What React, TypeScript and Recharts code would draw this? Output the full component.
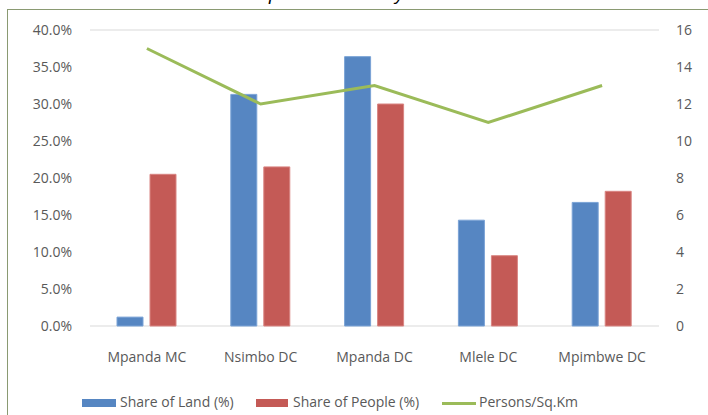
import React from 'react';
import { ComposedChart, Bar, Line, XAxis, YAxis, CartesianGrid, Legend } from 'recharts';

const districts = ['Mpanda MC', 'Nsimbo DC', 'Mpanda DC', 'Mlele DC', 'Mpimbwe DC'];
const landShare = [1.2, 31.3, 36.4, 14.3, 16.7];
const peopleShare = [20.5, 21.5, 30.0, 9.5, 18.2];
const personsPerSqKm = [15, 12, 13, 11, 13];

const leftTicks = [0, 5, 10, 15, 20, 25, 30, 35, 40];
const rightTicks = [0, 2, 4, 6, 8, 10, 12, 14, 16];

const BLUE = '#5686c2';
const RED = '#c45a56';
const GREEN = '#9bbb59';
const TEXT = '#595959';
const FONT = '"Open Sans", "Liberation Sans", sans-serif';

const chartData = districts.map((name, i) => ({
  name,
  land: landShare[i],
  people: peopleShare[i],
  density: personsPerSqKm[i],
}));

// legend drawn by hand so the spacing matches the Excel one
const LegendRow = () => (
  <div style={{ position: 'relative', height: 16, fontFamily: FONT, fontSize: 14, color: TEXT, whiteSpace: 'nowrap' }}>
    <div style={{ position: 'absolute', left: 82, top: 4, width: 34, height: 8, background: BLUE }} />
    <span style={{ position: 'absolute', left: 120, top: -3 }}>Share of Land (%)</span>
    <div style={{ position: 'absolute', left: 256, top: 4, width: 32, height: 8, background: RED }} />
    <span style={{ position: 'absolute', left: 293, top: -3 }}>Share of People (%)</span>
    <div style={{ position: 'absolute', left: 442, top: 7, width: 34, height: 3, background: GREEN }} />
    <span style={{ position: 'absolute', left: 479, top: -3 }}>Persons/Sq.Km</span>
  </div>
);

export default function App() {
  return (
    <div style={{ position: 'absolute', left: 0, top: 0, width: 708, height: 415, overflow: 'hidden', background: '#fff' }}>
      {/* chart frame, only top and left edges fall inside the picture */}
      <div style={{ position: 'absolute', left: 7, top: 9, width: 701, height: 406, borderLeft: '1.5px solid #8a9a72', borderTop: '1.5px solid #8a9a72' }} />
      {/* title, mostly cut off above the frame */}
      <div
        style={{
          position: 'absolute',
          left: 0,
          width: 650,
          top: -17,
          textAlign: 'center',
          fontFamily: '"Liberation Sans", sans-serif',
          fontStyle: 'italic',
          fontSize: 19,
          color: '#000',
          lineHeight: '22px',
        }}
      >
        Population Density
      </div>
      <ComposedChart
        width={708}
        height={415}
        data={chartData}
        margin={{ top: 30, right: 0, left: 20, bottom: 14 }}
        barGap={7}
        barSize={26}
        style={{ position: 'absolute', left: 0, top: 0 }}
      >
        <CartesianGrid vertical={false} stroke="#d9d9d9" strokeWidth={1} />
        <XAxis
          dataKey="name"
          axisLine={false}
          tickLine={false}
          tickSize={0}
          tickMargin={26}
          height={59}
          tick={{ fill: TEXT, fontSize: 14, fontFamily: FONT }}
        />
        <YAxis
          yAxisId="left"
          domain={[0, 40]}
          ticks={leftTicks}
          tickFormatter={(v: number) => `${v.toFixed(1)}%`}
          axisLine={false}
          tickLine={false}
          tickSize={0}
          tickMargin={18}
          width={70}
          tick={{ fill: TEXT, fontSize: 14, fontFamily: FONT }}
        />
        <YAxis
          yAxisId="right"
          orientation="right"
          domain={[0, 16]}
          ticks={rightTicks}
          axisLine={false}
          tickLine={false}
          tickSize={0}
          tickMargin={17}
          width={49}
          tick={{ fill: TEXT, fontSize: 14, fontFamily: FONT }}
        />
        <Legend verticalAlign="bottom" content={() => <LegendRow />} wrapperStyle={{ left: 0, bottom: 4, width: 708 }} />
        <Bar yAxisId="left" dataKey="land" name="Share of Land (%)" fill={BLUE} stroke="#7aa3d6" strokeWidth={1} isAnimationActive={false} />
        <Bar yAxisId="left" dataKey="people" name="Share of People (%)" fill={RED} stroke="#d98582" strokeWidth={1} isAnimationActive={false} />
        <Line
          yAxisId="right"
          type="linear"
          dataKey="density"
          name="Persons/Sq.Km"
          stroke={GREEN}
          strokeWidth={3}
          dot={false}
          isAnimationActive={false}
        />
      </ComposedChart>
    </div>
  );
}
